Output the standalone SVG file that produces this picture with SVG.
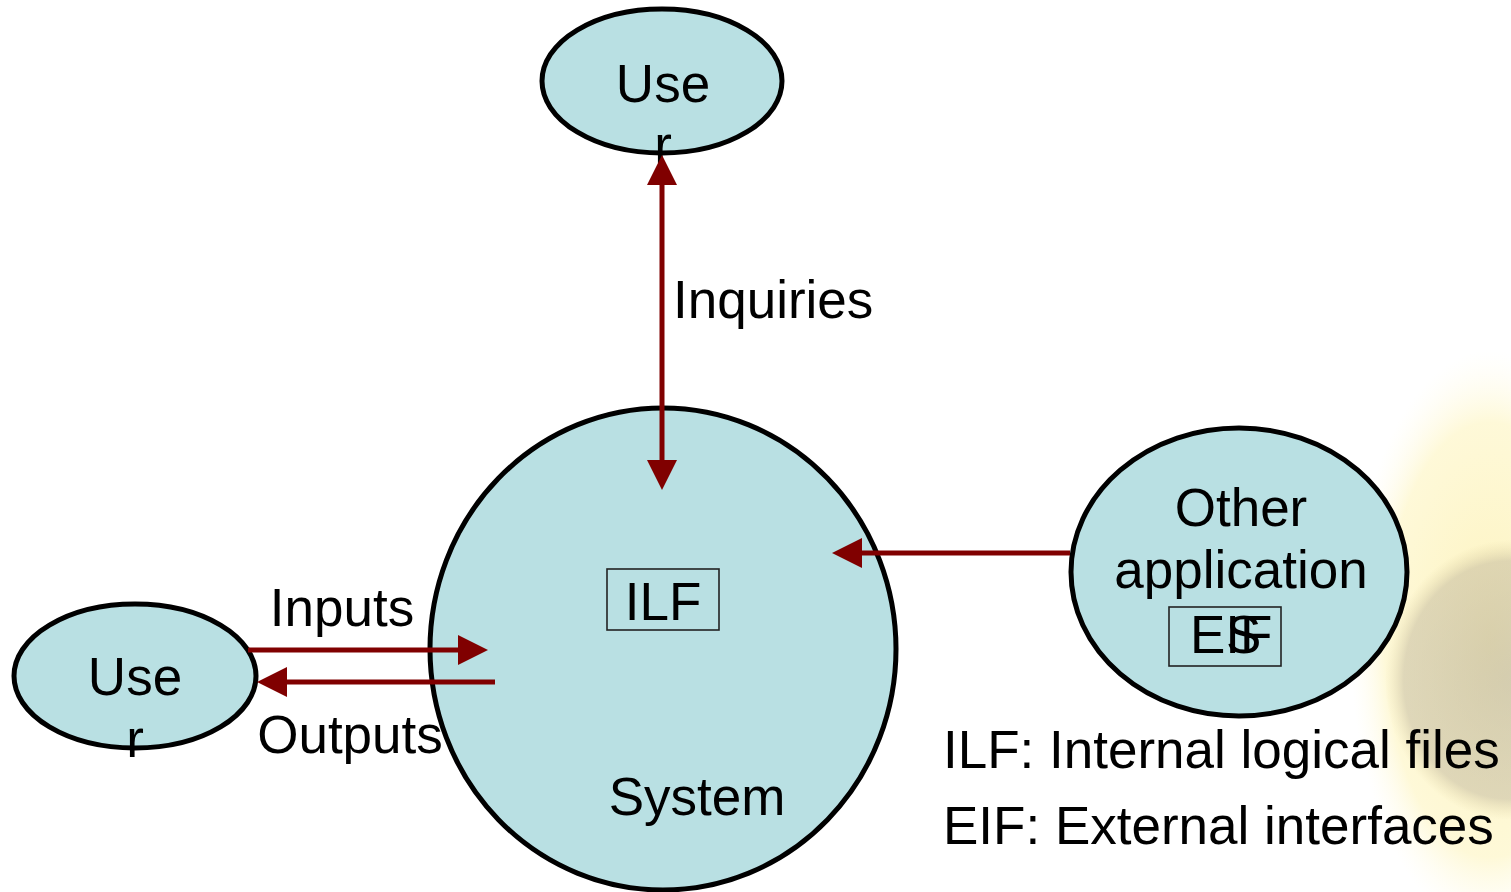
<svg xmlns="http://www.w3.org/2000/svg" width="1511" height="892" viewBox="0 0 1511 892">
<style>
.node{fill:#b9e0e3;stroke:#000;stroke-width:5}
.lbl{font-family:"Liberation Sans",Arial,sans-serif;font-size:53px;fill:#000}
.box{fill:none;stroke:#222;stroke-width:1.6}
.conn{stroke:#800000;stroke-width:5;fill:none}
</style>
<defs>
<marker id="ah" viewBox="0 -15 30 30" refX="0" refY="0" markerWidth="30" markerHeight="30" markerUnits="userSpaceOnUse" orient="auto-start-reverse">
<path d="M0,-15 L30,0 L0,15 z" fill="#800000"/>
</marker>
<radialGradient id="petals" cx="0.5" cy="0.5" r="0.5">
<stop offset="0" stop-color="#fbe98a" stop-opacity="0.55"/>
<stop offset="0.75" stop-color="#fdf1a8" stop-opacity="0.45"/>
<stop offset="1" stop-color="#fffbe0" stop-opacity="0"/>
</radialGradient>
<radialGradient id="disk" cx="0.5" cy="0.5" r="0.5">
<stop offset="0" stop-color="#a39d94" stop-opacity="0.45"/>
<stop offset="0.85" stop-color="#b0a690" stop-opacity="0.4"/>
<stop offset="1" stop-color="#d8c890" stop-opacity="0"/>
</radialGradient>
</defs>
<g id="background">
<ellipse cx="1490" cy="640" rx="140" ry="290" fill="url(#petals)"/>
<ellipse cx="1510" cy="680" rx="125" ry="140" fill="url(#disk)"/>
</g>
<g id="node-system">
<ellipse class="node" cx="663" cy="649" rx="233" ry="241"/>
<rect class="box" x="607" y="569" width="112" height="61"/>
<text class="lbl" x="663" y="620" text-anchor="middle" font-size="48">ILF</text>
<text class="lbl" x="697" y="815" text-anchor="middle">System</text>
</g>
<g id="node-user-top">
<ellipse class="node" cx="662" cy="81" rx="120" ry="72"/>
<text class="lbl" x="663" y="102" text-anchor="middle">Use</text>
<text class="lbl" x="663" y="163" text-anchor="middle">r</text>
</g>
<g id="node-user-left">
<ellipse class="node" cx="135" cy="676" rx="121" ry="72"/>
<text class="lbl" x="135" y="695" text-anchor="middle">Use</text>
<text class="lbl" x="135" y="757" text-anchor="middle">r</text>
</g>
<g id="node-other">
<ellipse class="node" cx="1239" cy="572" rx="168" ry="144"/>
<text class="lbl" x="1241" y="526" text-anchor="middle">Other</text>
<text class="lbl" x="1241" y="588" text-anchor="middle">application</text>
<rect class="box" x="1169" y="607" width="112" height="59"/>
<text class="lbl" x="1190" y="653" font-size="43">EIF</text>
<text class="lbl" x="1226" y="653" font-size="43">S</text>
</g>
<g id="connectors">
<line class="conn" x1="662" y1="185" x2="662" y2="460" marker-start="url(#ah)" marker-end="url(#ah)"/>
<line class="conn" x1="248" y1="650" x2="458" y2="650" marker-end="url(#ah)"/>
<line class="conn" x1="495" y1="682" x2="287" y2="682" marker-end="url(#ah)"/>
<line class="conn" x1="1070" y1="553" x2="862" y2="553" marker-end="url(#ah)"/>
</g>
<g id="labels">
<text class="lbl" x="673" y="318">Inquiries</text>
<text class="lbl" x="342" y="626" text-anchor="middle">Inputs</text>
<text class="lbl" x="350" y="753" text-anchor="middle">Outputs</text>
<text class="lbl" x="943" y="768">ILF: Internal logical files</text>
<text class="lbl" x="943" y="844">EIF: External interfaces</text>
</g>
</svg>
